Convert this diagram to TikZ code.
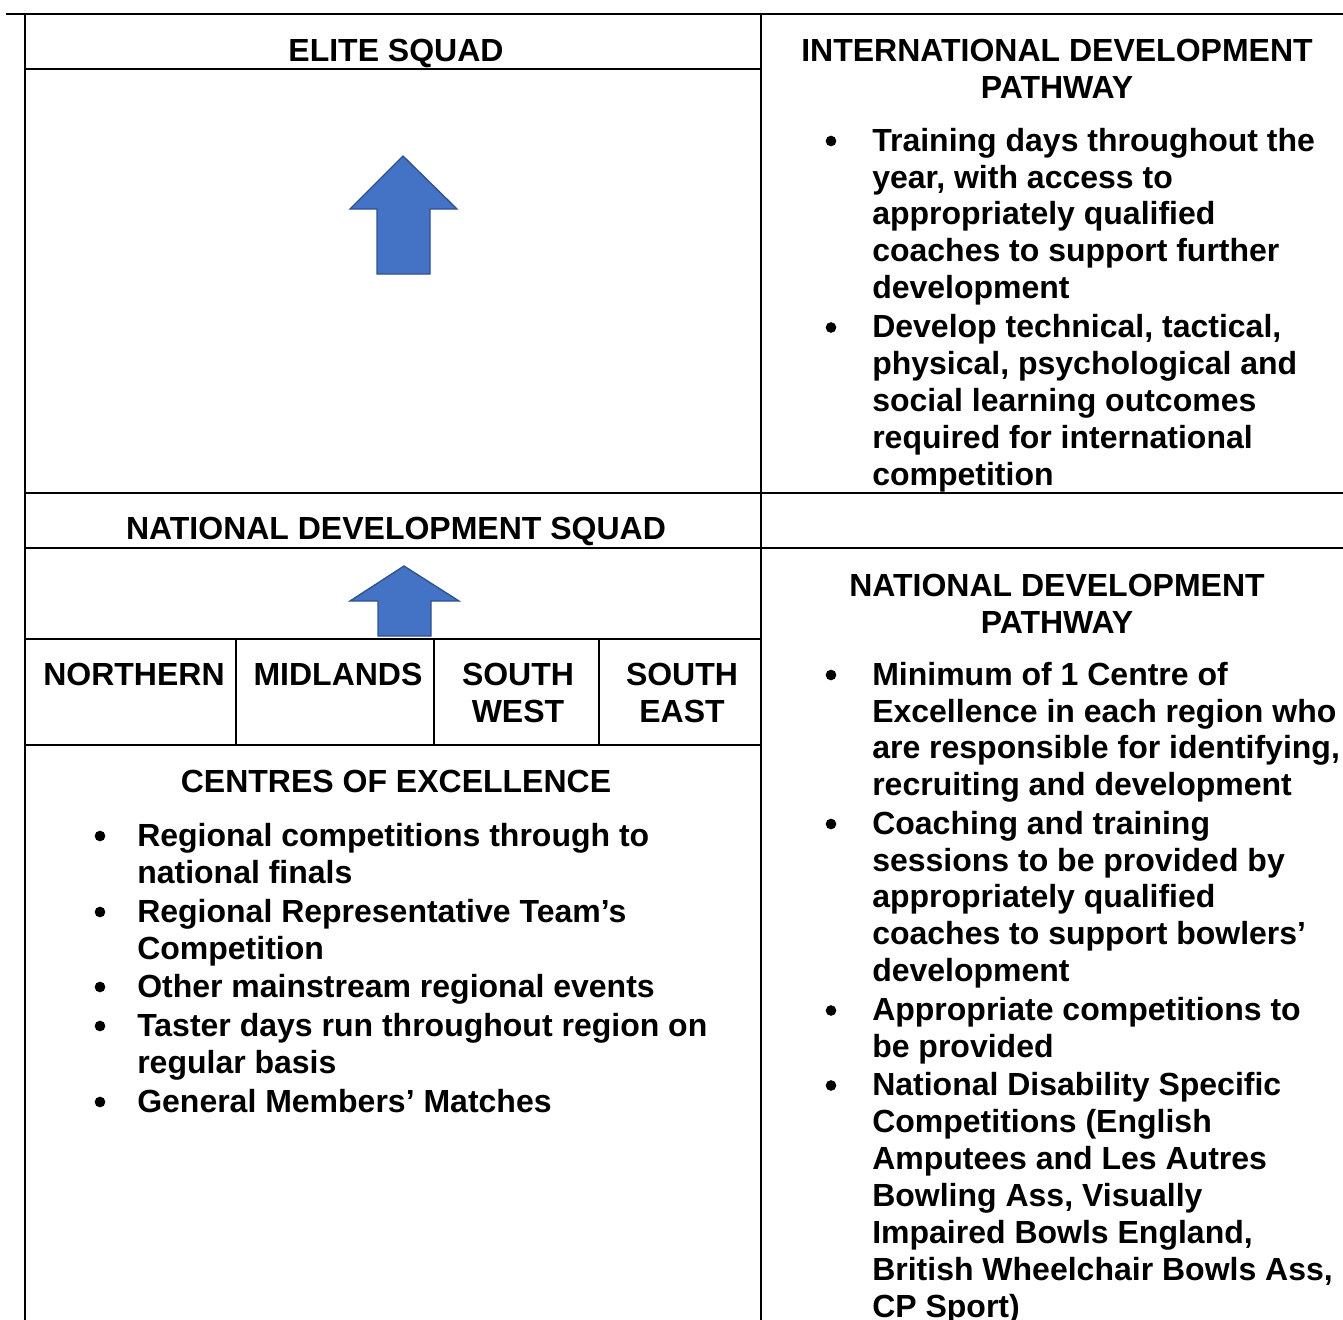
\documentclass[tikz,border=0pt]{standalone}
\usepackage{fontspec}
\setmainfont{Liberation Sans}
\usepackage{tikz}
\definecolor{arrowblue}{HTML}{4472C4}
\definecolor{arrowedge}{HTML}{2F528F}

\begin{document}
\begin{tikzpicture}[x=0.75pt,y=-0.75pt,
  every node/.style={inner sep=0pt,font=\bfseries\fontsize{24}{27.7}\selectfont},
  hdr/.style={anchor=north,align=center},
  txt/.style={anchor=north west,align=left},
  bul/.style={circle,fill=black,minimum size=8pt},
  rule/.style={line width=1.5pt},
  uparrow/.style={fill=arrowblue,draw=arrowedge,line width=1pt,line join=miter}]

\useasboundingbox (0,0) rectangle (1343,1320);

% table lines
\draw[line width=2pt] (6,14) -- (1218,14);
\draw[line width=1.4pt] (1218,14) -- (1343,14);
\draw[rule] (25,14) -- (25,1320);
\draw[rule] (761,14) -- (761,1320);
\draw[rule] (25,69) -- (761,69);
\draw[rule] (25,493) -- (1343,493);
\draw[rule] (25,548) -- (1343,548);
\draw[rule] (25,639) -- (761,639);
\draw[rule] (25,745) -- (761,745);
\foreach \x in {236,434,599}{
    \draw[rule] (\x,639) -- (\x,745);
}

% arrows
\draw[uparrow] (403,156) -- (457,209) -- (430,209) -- (430,274) -- (377,274) -- (377,209) -- (350,209) -- cycle;
\draw[uparrow] (404,566) -- (459,601) -- (431,601) -- (431,636) -- (378,636) -- (378,601) -- (350,601) -- cycle;

% top row
\node[hdr] (elite) at (396,35) {\strut ELITE SQUAD};
\node[hdr] (intl) at (1057,35) {\strut INTERNATIONAL DEVELOPMENT\\PATHWAY};
\node[txt] (intl1) at (872,125) {\strut Training days throughout the\\year, with access to\\appropriately qualified\\coaches to support further\\development};
\node[txt] (intl2) at (872,311.5) {\strut Develop technical, tactical,\\physical, psychological and\\social learning outcomes\\required for international\\competition};

\node[hdr] (nds) at (396,513.5) {\strut NATIONAL DEVELOPMENT SQUAD};

% regions
\node[hdr] (north) at (134,659.5) {\strut NORTHERN};
\node[hdr] (midl) at (338,659.5) {\strut MIDLANDS};
\node[hdr] (swest) at (518,659.5) {\strut SOUTH\\WEST};
\node[hdr] (seast) at (682,659.5) {\strut SOUTH\\EAST};

% centres of excellence
\node[hdr] (coe) at (396,766.5) {\strut CENTRES OF EXCELLENCE};
\node[txt] (coe1) at (137,820) {\strut Regional competitions through to\\national finals};
\node[txt] (coe2) at (137,896) {\strut Regional Representative Team’s\\Competition};
\node[txt] (coe3) at (137,971) {\strut Other mainstream regional events};
\node[txt] (coe4) at (137,1010) {\strut Taster days run throughout region on\\regular basis};
\node[txt] (coe5) at (137,1086) {\strut General Members’ Matches};

% national pathway
\node[hdr] (natl) at (1057,570) {\strut NATIONAL DEVELOPMENT\\PATHWAY};
\node[txt] (natl1) at (872,659) {\strut Minimum of 1 Centre of\\Excellence in each region who\\are responsible for identifying,\\recruiting and development};
\node[txt] (natl2) at (872,808) {\strut Coaching and training\\sessions to be provided by\\appropriately qualified\\coaches to support bowlers’\\development};
\node[txt] (natl3) at (872,994.5) {\strut Appropriate competitions to\\be provided};
\node[txt] (natl4) at (872,1069.5) {\strut National Disability Specific\\Competitions (English\\Amputees and Les Autres\\Bowling Ass, Visually\\Impaired Bowls England,\\British Wheelchair Bowls Ass,\\CP Sport)};

% bullets
\foreach \y [count=\i] in {141,327.5}{
    \node[bul] (ib\i) at (831,\y) {};
}
\foreach \y [count=\i] in {675,824,1010.5,1085.5}{
    \node[bul] (nb\i) at (831,\y) {};
}
\foreach \y [count=\i] in {836,912,987,1026,1102}{
    \node[bul] (cb\i) at (100,\y) {};
}

\end{tikzpicture}
\end{document}
